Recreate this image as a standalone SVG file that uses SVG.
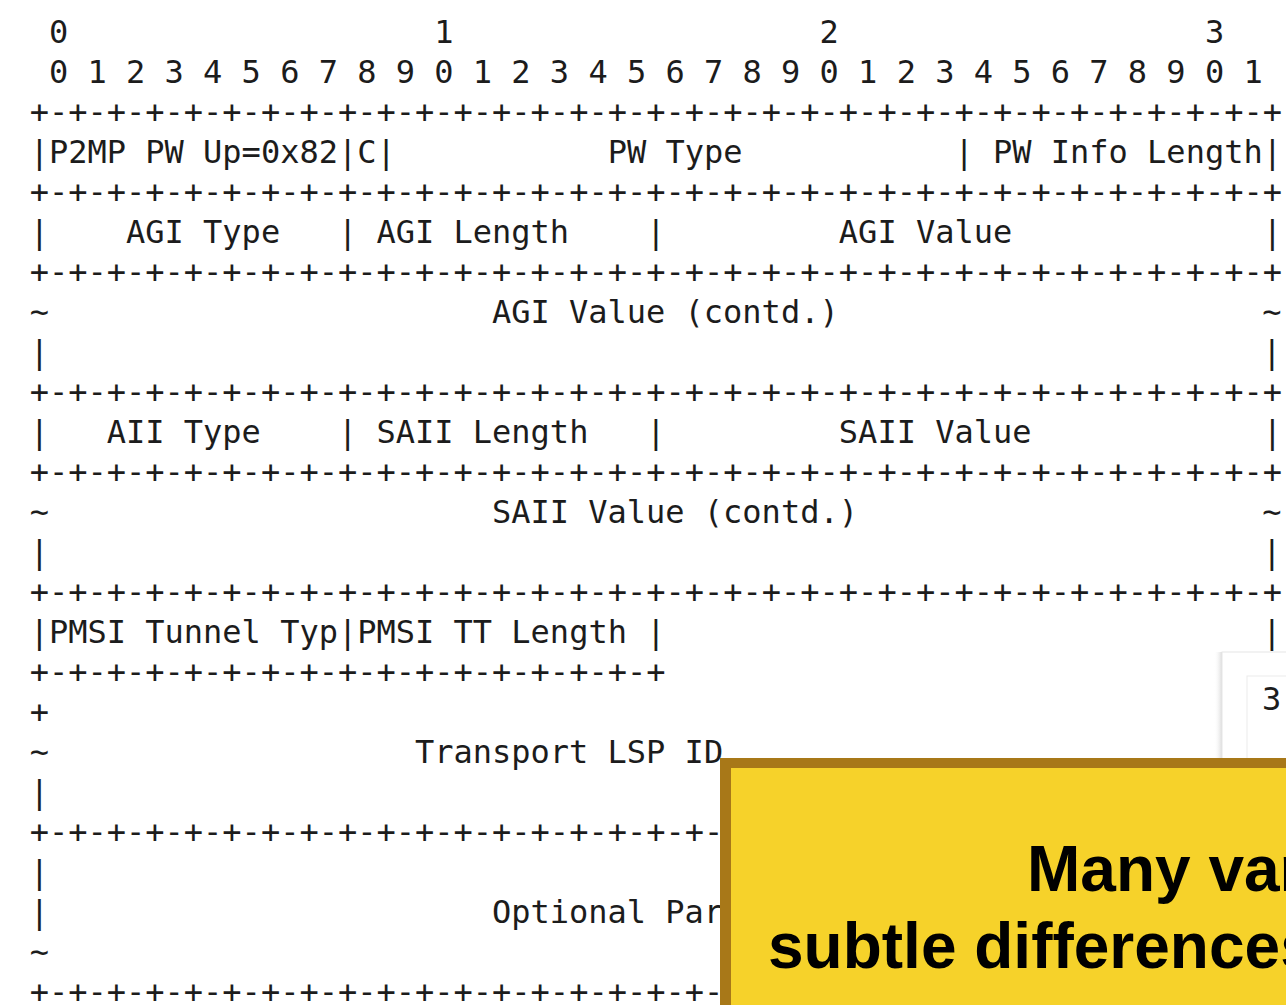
<svg xmlns="http://www.w3.org/2000/svg" width="1286" height="1005" viewBox="0 0 1286 1005">
<defs>
<style>
.m{font-family:"DejaVu Sans Mono","Liberation Mono",monospace;font-size:32px;fill:#1c1c1c;white-space:pre}
.b{font-family:"Liberation Sans",Arial,sans-serif;font-size:64px;font-weight:bold;fill:#000}
</style>
<linearGradient id="sh" x1="0" y1="0" x2="1" y2="0">
<stop offset="0" stop-color="#ffffff" stop-opacity="0"/>
<stop offset="1" stop-color="#c8c8c8"/>
</linearGradient>
</defs>
<rect width="1286" height="1005" fill="#ffffff"/>
<g id="packet" xml:space="preserve">
<text class="m" x="29.7" y="43"> 0                   1                   2                   3</text>
<text class="m" x="29.7" y="83"> 0 1 2 3 4 5 6 7 8 9 0 1 2 3 4 5 6 7 8 9 0 1 2 3 4 5 6 7 8 9 0 1</text>
<text class="m" x="29.7" y="123">+-+-+-+-+-+-+-+-+-+-+-+-+-+-+-+-+-+-+-+-+-+-+-+-+-+-+-+-+-+-+-+-+</text>
<text class="m" x="29.7" y="163">|P2MP PW Up=0x82|C|           PW Type           | PW Info Length|</text>
<text class="m" x="29.7" y="203">+-+-+-+-+-+-+-+-+-+-+-+-+-+-+-+-+-+-+-+-+-+-+-+-+-+-+-+-+-+-+-+-+</text>
<text class="m" x="29.7" y="243">|    AGI Type   | AGI Length    |         AGI Value             |</text>
<text class="m" x="29.7" y="283">+-+-+-+-+-+-+-+-+-+-+-+-+-+-+-+-+-+-+-+-+-+-+-+-+-+-+-+-+-+-+-+-+</text>
<text class="m" x="29.7" y="323">~</text>
<text class="m" x="491.9" y="323">AGI Value (contd.)</text>
<text class="m" x="1262.3" y="323">~</text>
<text class="m" x="29.7" y="363">|</text>
<text class="m" x="1262.3" y="363">|</text>
<text class="m" x="29.7" y="403">+-+-+-+-+-+-+-+-+-+-+-+-+-+-+-+-+-+-+-+-+-+-+-+-+-+-+-+-+-+-+-+-+</text>
<text class="m" x="29.7" y="443">|   AII Type    | SAII Length   |         SAII Value            |</text>
<text class="m" x="29.7" y="483">+-+-+-+-+-+-+-+-+-+-+-+-+-+-+-+-+-+-+-+-+-+-+-+-+-+-+-+-+-+-+-+-+</text>
<text class="m" x="29.7" y="523">~</text>
<text class="m" x="491.9" y="523">SAII Value (contd.)</text>
<text class="m" x="1262.3" y="523">~</text>
<text class="m" x="29.7" y="563">|</text>
<text class="m" x="1262.3" y="563">|</text>
<text class="m" x="29.7" y="603">+-+-+-+-+-+-+-+-+-+-+-+-+-+-+-+-+-+-+-+-+-+-+-+-+-+-+-+-+-+-+-+-+</text>
<text class="m" x="29.7" y="643">|PMSI Tunnel Typ|PMSI TT Length |</text>
<text class="m" x="1262.3" y="643">|</text>
<text class="m" x="29.7" y="683">+-+-+-+-+-+-+-+-+-+-+-+-+-+-+-+-+</text>
<text class="m" x="29.7" y="723">+</text>
<text class="m" x="29.7" y="763">~</text>
<text class="m" x="414.9" y="763">Transport LSP ID</text>
<text class="m" x="29.7" y="803">|</text>
<text class="m" x="29.7" y="843">+-+-+-+-+-+-+-+-+-+-+-+-+-+-+-+-+-+-</text>
<text class="m" x="29.7" y="883">|</text>
<text class="m" x="29.7" y="923">|</text>
<text class="m" x="491.9" y="923">Optional Par</text>
<text class="m" x="29.7" y="963">~</text>
<text class="m" x="29.7" y="1003">+-+-+-+-+-+-+-+-+-+-+-+-+-+-+-+-+-+-</text>
</g>
<g id="side-panel">
<rect x="1214" y="652" width="10" height="120" fill="url(#sh)"/>
<rect x="1222" y="652" width="70" height="120" fill="#ffffff" stroke="#e6e6e6" stroke-width="1"/>
<rect x="1247" y="676" width="50" height="100" fill="#ffffff" stroke="#ececec" stroke-width="1"/>
<text class="m" x="1262" y="710">3</text>
</g>
<g id="callout">
<rect x="720" y="758" width="600" height="260" fill="#a87818"/>
<rect x="731" y="768" width="600" height="260" fill="#f6d22a"/>
<text class="b" x="1027" y="891">Many var</text>
<text class="b" x="768" y="968">subtle differences</text>
</g>
</svg>
